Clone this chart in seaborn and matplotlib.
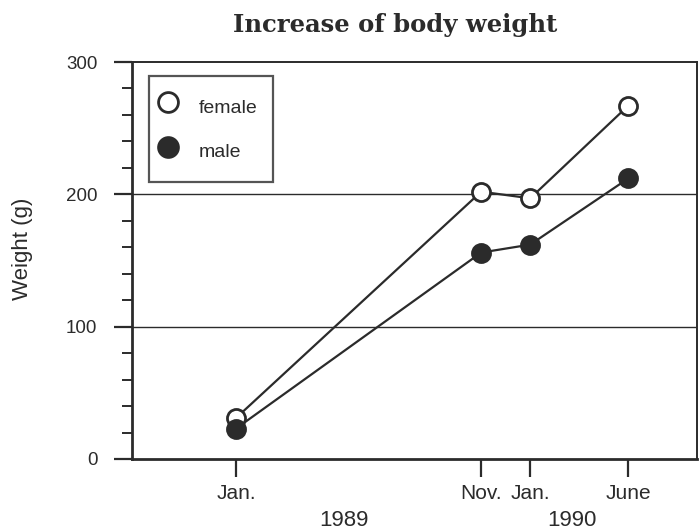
import matplotlib
matplotlib.use("Agg")
import matplotlib.pyplot as plt
import numpy as np
import pandas as pd
import seaborn as sns

# months counted from Jan. 1989
months = [0, 10, 12, 16]
month_labels = ["Jan.", "Nov.", "Jan.", "June"]
female = [31, 202, 197, 267]
male = [23, 156, 162, 212]

df = pd.DataFrame({"month": months * 2,
                   "weight": female + male,
                   "sex": ["female"] * 4 + ["male"] * 4})

sns.set_theme(style="ticks")
plt.rcParams['font.family'] = ['Liberation Sans', 'DejaVu Sans']
ink = "#2b2b2b"

fig = plt.figure(figsize=(6.99, 5.30), dpi=100)
ax = fig.add_axes([0.189, 0.134, 0.808, 0.749])

for y in [100, 200]:
    ax.axhline(y, color=ink, lw=1.0, zorder=1)

sns.lineplot(data=df[df.sex == "female"], x="month", y="weight", ax=ax,
             color=ink, lw=1.6, marker="o", markersize=13,
             markerfacecolor="white", markeredgecolor=ink, markeredgewidth=2,
             label="female", zorder=3)
sns.lineplot(data=df[df.sex == "male"], x="month", y="weight", ax=ax,
             color=ink, lw=1.6, marker="o", markersize=13,
             markerfacecolor=ink, markeredgecolor=ink, markeredgewidth=2,
             label="male", zorder=3)

ax.set_xlim(-4.24, 18.8)
ax.set_ylim(0, 300)
ax.set_yticks([0, 100, 200, 300])
ax.set_yticks(np.arange(0, 301, 20), minor=True)
ax.set_xticks(months)
ax.set_xticklabels(month_labels)
ax.tick_params(axis="both", which="major", length=13, width=1.6, color=ink,
               labelcolor=ink, direction="out")
ax.tick_params(axis="y", which="major", labelsize=13.5, pad=12)
ax.tick_params(axis="x", which="major", labelsize=15, pad=5)
ax.tick_params(axis="y", which="minor", length=7, width=1.4, color=ink)
ax.set_xlabel("")
ax.set_ylabel("Weight (g)", fontsize=16, color=ink)
ax.yaxis.set_label_coords(-0.175, 0.53)

for s in ["left", "bottom"]:
    ax.spines[s].set_linewidth(2.0)
    ax.spines[s].set_color(ink)
for s in ["top", "right"]:
    ax.spines[s].set_linewidth(1.4)
    ax.spines[s].set_color(ink)

leg = ax.legend(loc="upper left", bbox_to_anchor=(0.030, 0.965), fontsize=14,
                frameon=True, fancybox=False, edgecolor=ink, borderpad=0.8,
                labelspacing=0.76, handlelength=0.3, handleheight=2.0,
                handletextpad=1.45, borderaxespad=0, markerscale=1.1)
leg.get_frame().set_linewidth(1.6)
for h in leg.legend_handles:
    h.set_linestyle("none")
for t in leg.get_texts():
    t.set_color(ink)

fig.text(344 / 699, 1 - 520 / 530, "1989", ha="center", va="center",
         fontsize=16, color=ink)
fig.text(572 / 699, 1 - 520 / 530, "1990", ha="center", va="center",
         fontsize=16, color=ink)
fig.text(395 / 699, 1 - 25 / 530, "Increase of body weight", ha="center",
         va="center", fontsize=17.5, fontweight="bold", color=ink,
         family="DejaVu Serif")

fig.savefig("out.png", dpi=100)
